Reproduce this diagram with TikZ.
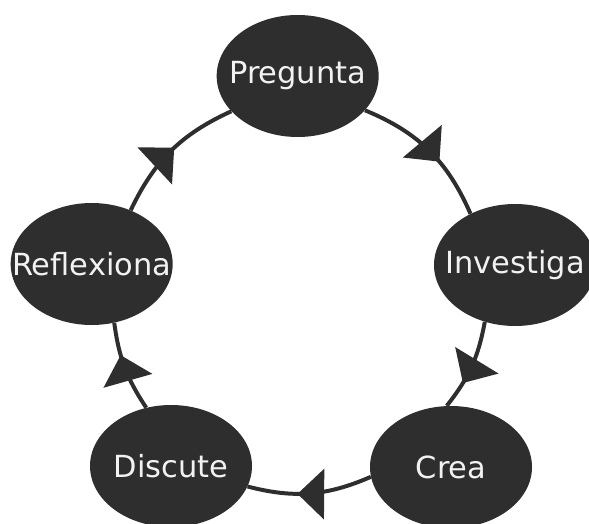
\documentclass[tikz,border=0pt]{standalone}
\usepackage{fontspec}
\setmainfont{DejaVu Sans}
\usetikzlibrary {arrows.meta}
\usetikzlibrary {shapes.geometric}
\usetikzlibrary {decorations.markings}

\definecolor{etapagris}{HTML}{2E2E2E}

\begin{document}
\begin{tikzpicture}[
        etapa/.style = {ellipse, fill=etapagris, text=white!95!black, minimum width=4.86cm, minimum height=3.66cm, inner xsep=-3cm, inner ysep=0pt, font=\fontsize{26}{31}\selectfont},
        ciclo/.style = {color=etapagris, line width=3.4pt, postaction={decorate},
          decoration={markings, mark=at position #1 with {\arrow{Triangle[length=0.8cm, width=1.5cm]}}}},
        ciclo/.default = 0.56]
        \useasboundingbox (0, 0) rectangle (17.67, 15.69);

        \node [etapa] (pregunta) at (8.93, 13.41) {Pregunta};
        \node [etapa] (investiga) at (15.45, 7.74) {Investiga};
        \node [etapa] (crea) at (13.53, 1.68) {Crea};
        \node [etapa] (discute) at (5.13, 1.71) {Discute};
        \node [etapa] (reflexiona) at (2.75, 7.77) {Reflexiona};

        \draw [ciclo=0.6] (pregunta.-27) to [bend left=22] (investiga.131);
        \draw [ciclo=0.7] (investiga.-118) to [bend left=14] (crea.94);
        \draw [ciclo=0.6] (crea.187) to [bend left=19] (discute.-15);
        \draw [ciclo=0.64] (discute.113) to [bend left=13] (reflexiona.-69);
        \draw [ciclo=0.53] (reflexiona.54) to [bend left=20] (pregunta.208);
      \end{tikzpicture}
\end{document}
